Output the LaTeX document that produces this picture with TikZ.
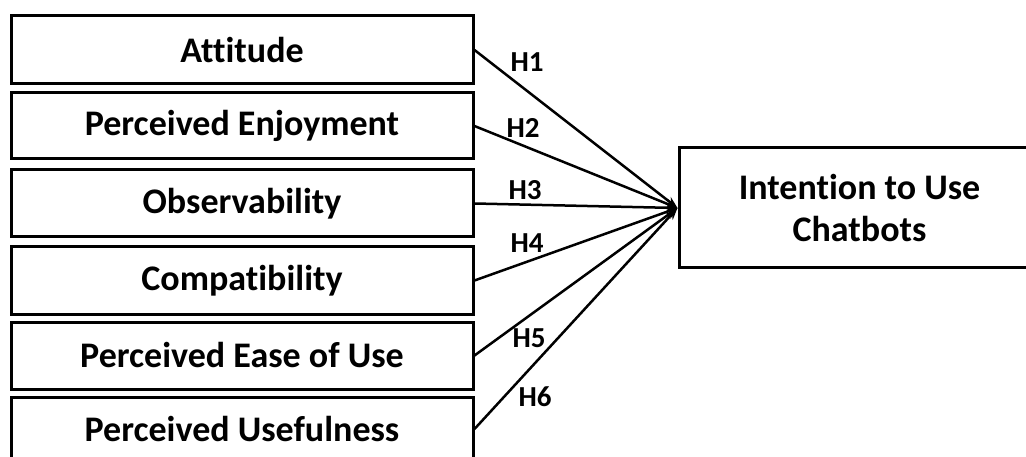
\documentclass[tikz,border=0pt]{standalone}
\usepackage{fontspec}
\setmainfont{Carlito}[Ligatures=NoCommon]
\usetikzlibrary{arrows.meta}
\begin{document}
\begin{tikzpicture}[x=1pt,y=-1pt,
  factor/.style={draw=black,line width=3pt,minimum width=462pt,inner sep=0pt,
    font=\bfseries\fontsize{36}{42}\selectfont},
  target/.style={draw=black,line width=3pt,minimum width=361pt,minimum height=120pt,inner sep=0pt,
    align=center,font=\bfseries\fontsize{36}{42}\selectfont},
  hyp/.style={font=\bfseries\fontsize{29}{32}\selectfont,inner sep=0pt},
  link/.style={line width=2.5pt,-{Stealth[length=12pt,width=9pt]}}]
\useasboundingbox (0,0) rectangle (1026,457);
\clip (0,0) rectangle (1026,457);
\node[factor,minimum height=68pt] (b1) at (242,50) {Attitude};
\node[factor,minimum height=66pt] (b2) at (242,126) {Perceived Enjoyment};
\node[factor,minimum height=67pt] (b3) at (242,203.5) {Observability};
\node[factor,minimum height=67pt] (b4) at (242,280.5) {Compatibility};
\node[factor,minimum height=67pt] (b5) at (242,355.5) {Perceived Ease of Use};
\node[factor,minimum height=64pt] (b6) at (242,429) {Perceived Usefulness};
\node[target] (out) at (859.5,208) {Intention to Use\\Chatbots};
\foreach \i in {1,...,6}{\draw[link] (b\i.east) -- (out.west);}
\node[hyp] (h1) at (527,62) {H1};
\node[hyp] (h2) at (523,128) {H2};
\node[hyp] (h3) at (525,190) {H3};
\node[hyp] (h4) at (527,243) {H4};
\node[hyp] (h5) at (529,338) {H5};
\node[hyp] (h6) at (535,397) {H6};
\end{tikzpicture}
\end{document}
